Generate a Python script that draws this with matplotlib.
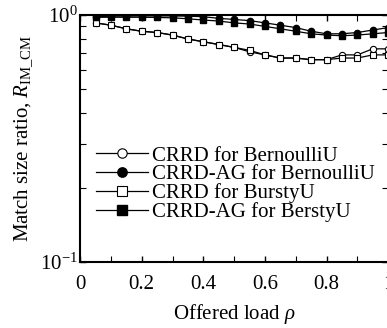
import numpy as np
import matplotlib
matplotlib.use("Agg")
import matplotlib.pyplot as plt
from matplotlib.ticker import MultipleLocator, LogLocator, NullFormatter

plt.rcParams['font.family'] = ['Liberation Serif', 'DejaVu Serif']
plt.rcParams['mathtext.fontset'] = 'custom'
plt.rcParams['mathtext.rm'] = 'Liberation Serif'
plt.rcParams['mathtext.it'] = 'Liberation Serif:italic'

# offered load
rho = [0.05, 0.1, 0.15, 0.2, 0.25, 0.3, 0.35, 0.4, 0.45, 0.5,
       0.55, 0.6, 0.65, 0.7, 0.75, 0.8, 0.85, 0.9, 0.95, 1.0]

crrd_bern = [0.93, 0.91, 0.88, 0.86, 0.85, 0.83, 0.80, 0.78, 0.76, 0.74,
             0.71, 0.69, 0.67, 0.67, 0.66, 0.66, 0.69, 0.69, 0.73, 0.73]
crrdag_bern = [0.985, 0.99, 0.99, 0.992, 0.992, 0.992, 0.99, 0.985, 0.97, 0.96,
               0.95, 0.93, 0.91, 0.89, 0.86, 0.84, 0.84, 0.85, 0.87, 0.89]
crrd_burst = [0.93, 0.91, 0.88, 0.86, 0.85, 0.83, 0.80, 0.78, 0.76, 0.74,
              0.72, 0.69, 0.67, 0.67, 0.66, 0.66, 0.67, 0.67, 0.69, 0.69]
crrdag_burst = [0.98, 0.98, 0.98, 0.98, 0.978, 0.975, 0.966, 0.955, 0.946, 0.93,
                0.92, 0.90, 0.88, 0.86, 0.84, 0.83, 0.825, 0.83, 0.84, 0.85]

labels = ['CRRD for BernoulliU', 'CRRD-AG for BernoulliU',
          'CRRD for BurstyU', 'CRRD-AG for BerstyU']

fs = 15

fig = plt.figure(figsize=(3.87, 3.28), dpi=100)
ax = fig.add_axes([0.207, 0.201, 0.796, 0.753])

ms = 4.5
ax.plot(rho, crrd_bern, '-o', color='black', mfc='white', mec='black', ms=ms, lw=0.9, mew=0.8, label=labels[0])
ax.plot(rho, crrdag_bern, '-o', color='black', mfc='black', ms=ms, lw=0.9, label=labels[1])
ax.plot(rho, crrd_burst, '-s', color='black', mfc='white', mec='black', ms=ms, lw=0.9, mew=0.8, label=labels[2])
ax.plot(rho, crrdag_burst, '-s', color='black', mfc='black', ms=ms, lw=0.9, label=labels[3])

ax.set_yscale('log')
ax.set_ylim(0.1, 1.0)
ax.set_xlim(0, 1.0)
ax.set_xticks([0, 0.2, 0.4, 0.6, 0.8, 1.0])
ax.set_xticklabels(['0', '0.2', '0.4', '0.6', '0.8', '1'])
ax.xaxis.set_minor_locator(MultipleLocator(0.1))
ax.yaxis.set_minor_locator(LogLocator(base=10, subs=np.arange(2, 10)))
ax.yaxis.set_minor_formatter(NullFormatter())

ax.tick_params(which='both', direction='in', top=True, right=True, labelsize=fs)
ax.tick_params(axis='x', pad=9)
ax.tick_params(axis='y', pad=1.5)
ax.tick_params(which='major', length=4, width=1)
ax.tick_params(which='minor', length=4, width=0.8)
for s in ax.spines.values():
    s.set_linewidth(1.5)

ax.set_xlabel(r'Offered load $\it{\rho}$', fontsize=fs, labelpad=6)
ax.set_ylabel(r'Match size ratio, $R_{\mathrm{IM\_CM}}$', fontsize=fs, labelpad=4)

leg = ax.legend(loc='upper left', bbox_to_anchor=(0.05, 0.47), frameon=False,
                fontsize=fs, handlelength=2.5, handletextpad=0.2,
                labelspacing=-0.05, markerscale=1.5, borderaxespad=0.0,
                borderpad=0.0)

fig.savefig('out.png', dpi=100)
